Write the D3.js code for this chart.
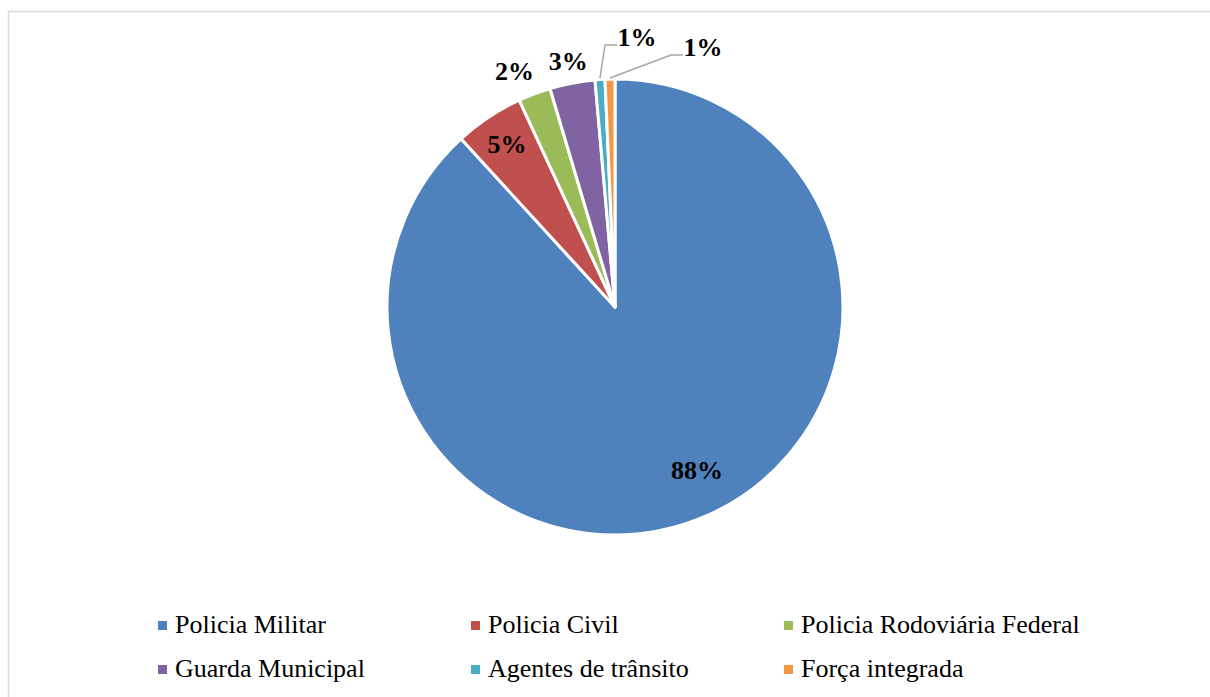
<!DOCTYPE html>
<html>
<head>
<meta charset="utf-8">
<script src="https://cdn.jsdelivr.net/npm/d3@7"></script>
<style>
  body { margin: 0; background: #fff; }
  svg { display: block; font-family: "Liberation Serif", "Times New Roman", serif; }
</style>
</head>
<body>
<svg id="chart" width="1210" height="697"></svg>
<script>
// data (shares, in %)
const categories = ["Policia Militar", "Policia Civil", "Policia Rodoviária Federal",
                    "Guarda Municipal", "Agentes de trânsito", "Força integrada"];
const shares = [88.2, 4.9, 2.3, 3.2, 0.7, 0.7];
const pctLabels = ["88%", "5%", "2%", "3%", "1%", "1%"];
const colors = ["#4F81BD", "#C0504D", "#9BBB59", "#8064A2", "#4BACC6", "#F79646"];

const svg = d3.select("#chart");
const cx = 615, cy = 307, r = 228;

// chart border (runs off the right/bottom of the window)
svg.append("rect")
  .attr("x", 8.5).attr("y", 11.5)
  .attr("width", 1220).attr("height", 700)
  .attr("fill", "none")
  .attr("stroke", "#d9d9d9")
  .attr("stroke-width", 1.5);

const data = categories.map((c, i) => ({ name: c, value: shares[i], label: pctLabels[i], color: colors[i] }));

const pie = d3.pie().value(d => d.value).sort(null);
const arcs = pie(data);
const arc = d3.arc().innerRadius(0).outerRadius(r);

const g = svg.append("g").attr("transform", `translate(${cx},${cy})`);

g.selectAll("path")
  .data(arcs)
  .enter()
  .append("path")
  .attr("d", arc)
  .attr("fill", d => d.data.color)
  .attr("stroke", "#fff")
  .attr("stroke-width", 3)
  .attr("stroke-linejoin", "round");

// label placement: inside for big slices, just outside for small ones,
// the two tiny ones get pulled up with a leader line
function polar(a, rad) { return [Math.sin(a) * rad, -Math.cos(a) * rad]; }
const labelRadius = [0.80 * r, 0.855 * r, r + 28, r + 22, null, null];
const nudge = { 0: [16, -7], 2: [-10, 4] };
const pulled = { 4: [22, -270], 5: [88, -260] };

arcs.forEach((d, i) => {
  const mid = (d.startAngle + d.endAngle) / 2;
  let x, y;
  if (pulled[i]) {
    [x, y] = pulled[i];
    const p0 = polar(mid, r + 1);
    const lx = x - 20, ly = y + 8;
    g.append("polyline")
      .attr("points", [p0, [lx - 12, ly], [lx, ly]].map(p => p.join(",")).join(" "))
      .attr("fill", "none")
      .attr("stroke", "#a6a6a6")
      .attr("stroke-width", 1.5);
  } else {
    [x, y] = polar(mid, labelRadius[i]);
    if (nudge[i]) { x += nudge[i][0]; y += nudge[i][1]; }
  }
  g.append("text")
    .attr("x", x).attr("y", y)
    .attr("text-anchor", "middle")
    .attr("dominant-baseline", "central")
    .attr("font-size", 26)
    .attr("font-weight", "bold")
    .attr("fill", "#000")
    .text(d.data.label);
});

// legend, 3 columns x 2 rows
const legend = svg.append("g");
const item = legend.selectAll("g")
  .data(data)
  .enter()
  .append("g")
  .attr("transform", (d, i) => `translate(${158 + (i % 3) * 313},${633 + Math.floor(i / 3) * 44})`);

item.append("rect")
  .attr("x", 0).attr("y", -12)
  .attr("width", 9).attr("height", 9)
  .attr("fill", d => d.color);

item.append("text")
  .attr("x", 17).attr("y", 0)
  .attr("font-size", 26)
  .attr("fill", "#000")
  .text(d => d.name);
</script>
</body>
</html>
